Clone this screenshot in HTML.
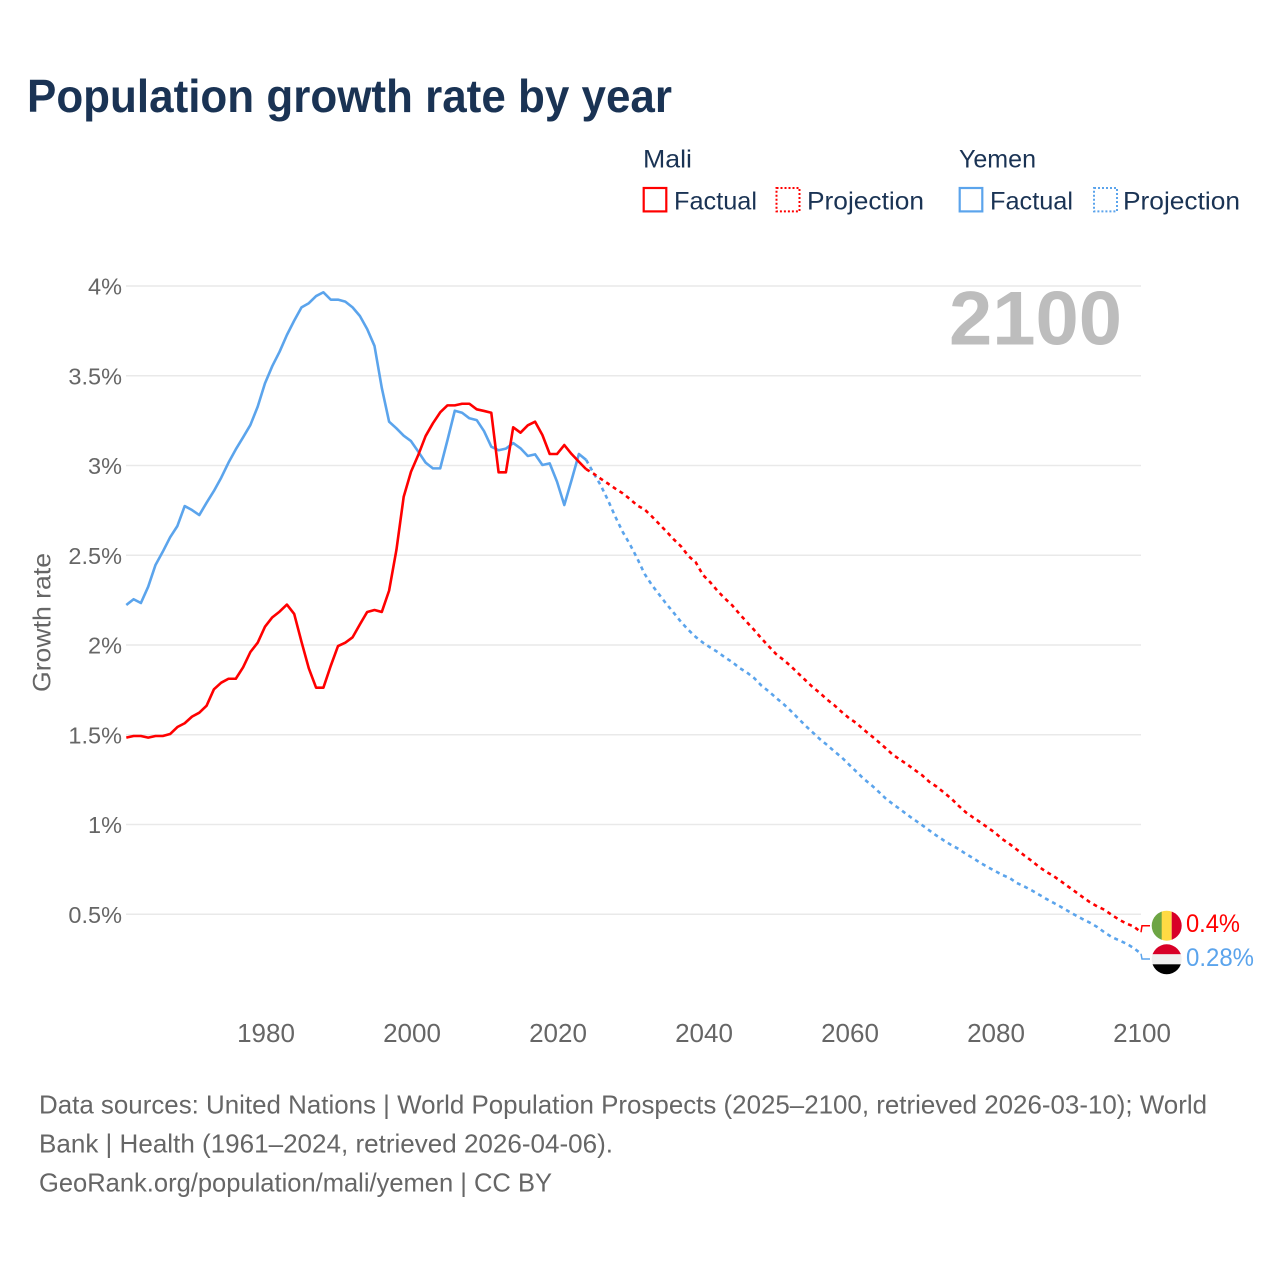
<!DOCTYPE html>
<html lang="en">
<head>
<meta charset="utf-8">
<title>Population growth rate by year</title>
<style>
html,body{margin:0;padding:0;background:#fff;}
body{width:1280px;height:1280px;overflow:hidden;}
svg{display:block;}
text{font-family:"Liberation Sans",sans-serif;}
</style>
</head>
<body>
<svg id="chart" xmlns="http://www.w3.org/2000/svg" width="1280" height="1280" viewBox="0 0 1280 1280">
  <rect x="0" y="0" width="1280" height="1280" fill="#ffffff"/>
  <text x="27" y="112" font-size="46" font-weight="700" fill="#1a3354" textLength="645" lengthAdjust="spacingAndGlyphs">Population growth rate by year</text>

  <g font-size="25" fill="#1a3354">
    <text x="643" y="167.5" textLength="49" lengthAdjust="spacingAndGlyphs">Mali</text>
    <text x="959" y="167.5" textLength="77" lengthAdjust="spacingAndGlyphs">Yemen</text>
    <g>
      <rect x="643.7" y="188" width="22.6" height="23.4" fill="none" stroke="#ff0000" stroke-width="2.2"/>
      <text x="674" y="209.5" textLength="83" lengthAdjust="spacingAndGlyphs">Factual</text>
    </g>
    <g>
      <rect x="776.5" y="188" width="23" height="23.4" fill="none" stroke="#ff0000" stroke-width="2" stroke-dasharray="2 2"/>
      <text x="807" y="209.5" textLength="117" lengthAdjust="spacingAndGlyphs">Projection</text>
    </g>
    <g>
      <rect x="959.7" y="188" width="22.6" height="23.4" fill="none" stroke="#5ba4ec" stroke-width="2.2"/>
      <text x="990" y="209.5" textLength="83" lengthAdjust="spacingAndGlyphs">Factual</text>
    </g>
    <g>
      <rect x="1094" y="188" width="23" height="23.4" fill="none" stroke="#5ba4ec" stroke-width="2" stroke-dasharray="2 2"/>
      <text x="1123" y="209.5" textLength="117" lengthAdjust="spacingAndGlyphs">Projection</text>
    </g>
  </g>

  <g id="grid"></g>
  <g id="yticks"></g>
  <g id="xticks"></g>
  <text transform="translate(50.5,622.5) rotate(-90)" text-anchor="middle" font-size="25" fill="#666666" textLength="139" lengthAdjust="spacingAndGlyphs">Growth rate</text>
  <text x="949" y="344.5" font-size="76" font-weight="700" fill="#bdbdbd" textLength="173" lengthAdjust="spacingAndGlyphs">2100</text>
  <g id="series"></g>

  <path id="mali-connector" fill="none" stroke="#ff0000" stroke-width="1.5"/>
  <path id="yemen-connector" fill="none" stroke="#5ba4ec" stroke-width="1.5"/>

  <defs>
    <clipPath id="mali-clip"><circle cx="1166.7" cy="925.7" r="15"/></clipPath>
    <clipPath id="yemen-clip"><circle cx="1166.7" cy="959.3" r="15"/></clipPath>
  </defs>
  <g clip-path="url(#mali-clip)">
    <rect x="1151" y="910" width="11" height="32" fill="#6da544"/>
    <rect x="1161.7" y="910" width="10" height="32" fill="#ffda44"/>
    <rect x="1171.7" y="910" width="11" height="32" fill="#d80027"/>
  </g>
  <g clip-path="url(#yemen-clip)">
    <rect x="1151" y="944" width="32" height="10.3" fill="#d80027"/>
    <rect x="1151" y="954.3" width="32" height="10" fill="#f0f0f0"/>
    <rect x="1151" y="964.3" width="32" height="11" fill="#000000"/>
  </g>
  <text x="1186" y="932" font-size="25" fill="#ff0000" textLength="54" lengthAdjust="spacingAndGlyphs">0.4%</text>
  <text x="1186" y="966" font-size="25" fill="#5ba4ec" textLength="68" lengthAdjust="spacingAndGlyphs">0.28%</text>

  <g font-size="26" fill="#666666">
    <text x="39" y="1113.5" textLength="1168" lengthAdjust="spacingAndGlyphs">Data sources: United Nations | World Population Prospects (2025–2100, retrieved 2026-03-10); World</text>
    <text x="39" y="1152.5" textLength="574" lengthAdjust="spacingAndGlyphs">Bank | Health (1961–2024, retrieved 2026-04-06).</text>
    <text x="39" y="1191.5" textLength="513" lengthAdjust="spacingAndGlyphs">GeoRank.org/population/mali/yemen | CC BY</text>
  </g>
</svg>
<script>
var yTickValues = [0.5, 1, 1.5, 2, 2.5, 3, 3.5, 4];
var yTickLabels = ["0.5%", "1%", "1.5%", "2%", "2.5%", "3%", "3.5%", "4%"];
var xTickValues = [1980, 2000, 2020, 2040, 2060, 2080, 2100];
var factualStartYear = 1961;
var projectionStartYear = 2024;

var maliFactual = [1.484,1.493,1.493,1.484,1.493,1.493,1.504,1.543,1.564,1.601,1.623,1.662,1.753,1.790,1.812,1.812,1.876,1.961,2.013,2.102,2.154,2.186,2.225,2.173,2.018,1.870,1.762,1.762,1.883,1.994,2.013,2.043,2.115,2.184,2.195,2.184,2.303,2.529,2.826,2.965,3.059,3.164,3.235,3.296,3.335,3.335,3.344,3.344,3.313,3.304,3.294,2.962,2.962,3.213,3.183,3.224,3.244,3.170,3.064,3.064,3.114,3.064,3.021,2.979];
var yemenFactual = [2.223,2.255,2.234,2.325,2.446,2.520,2.600,2.663,2.774,2.752,2.724,2.793,2.858,2.932,3.016,3.090,3.157,3.226,3.328,3.458,3.554,3.634,3.727,3.807,3.881,3.904,3.944,3.965,3.924,3.924,3.913,3.881,3.833,3.760,3.666,3.432,3.244,3.207,3.166,3.136,3.077,3.016,2.984,2.984,3.142,3.305,3.294,3.263,3.253,3.192,3.105,3.085,3.094,3.125,3.096,3.053,3.062,3.003,3.012,2.910,2.780,2.919,3.064,3.031];
var maliProjection = [2.979,2.955,2.926,2.899,2.871,2.845,2.813,2.777,2.755,2.716,2.674,2.632,2.588,2.549,2.496,2.461,2.390,2.349,2.301,2.259,2.221,2.173,2.128,2.084,2.037,1.993,1.950,1.918,1.883,1.844,1.805,1.766,1.733,1.696,1.664,1.627,1.593,1.565,1.529,1.496,1.462,1.426,1.389,1.361,1.334,1.304,1.275,1.238,1.211,1.178,1.145,1.105,1.068,1.039,1.012,0.983,0.954,0.919,0.891,0.860,0.828,0.798,0.765,0.737,0.713,0.685,0.655,0.626,0.596,0.567,0.544,0.525,0.496,0.470,0.448,0.432,0.40];
var yemenProjection = [3.031,2.958,2.889,2.805,2.714,2.630,2.560,2.482,2.396,2.334,2.281,2.228,2.179,2.128,2.084,2.045,2.013,1.986,1.961,1.931,1.905,1.872,1.847,1.816,1.774,1.742,1.706,1.672,1.634,1.593,1.552,1.514,1.476,1.443,1.407,1.374,1.334,1.295,1.255,1.222,1.185,1.146,1.114,1.085,1.054,1.025,0.997,0.967,0.938,0.911,0.886,0.864,0.836,0.813,0.786,0.763,0.741,0.719,0.702,0.674,0.655,0.634,0.610,0.586,0.564,0.542,0.518,0.495,0.473,0.453,0.429,0.399,0.373,0.355,0.336,0.312,0.28];

var SVG_NS = "http://www.w3.org/2000/svg";
function xScale(year) { return 1141 - (2100 - year) * 7.3; }
function yScale(value) { return 286 + (4 - value) * 179.5; }

function linePath(values, startYear) {
  var d = "";
  for (var i = 0; i < values.length; i++) {
    d += (i ? "L" : "M") + xScale(startYear + i).toFixed(2) + " " + yScale(values[i]).toFixed(2);
  }
  return d;
}

var gridGroup = document.getElementById("grid");
var yTickGroup = document.getElementById("yticks");
yTickValues.forEach(function (value, i) {
  var line = document.createElementNS(SVG_NS, "line");
  
  
  line.setAttribute("x1", 126);
  line.setAttribute("x2", 1141);
  line.setAttribute("y1", yScale(value));
  line.setAttribute("y2", yScale(value));
  line.setAttribute("stroke", "#e9e9e9");
  line.setAttribute("stroke-width", "1.6");
  gridGroup.appendChild(line);

  var label = document.createElementNS(SVG_NS, "text");
  
  
  label.setAttribute("x", 122);
  label.setAttribute("y", yScale(value) + 8.5);
  label.setAttribute("text-anchor", "end");
  label.setAttribute("font-size", "23.5");
  label.setAttribute("fill", "#666666");
  label.textContent = yTickLabels[i];
  yTickGroup.appendChild(label);
});

var xTickGroup = document.getElementById("xticks");
xTickValues.forEach(function (year) {
  var label = document.createElementNS(SVG_NS, "text");
  
  
  label.setAttribute("x", xScale(year) + 1);
  label.setAttribute("y", 1042);
  label.setAttribute("text-anchor", "middle");
  label.setAttribute("font-size", "26");
  label.setAttribute("fill", "#666666");
  label.textContent = String(year);
  xTickGroup.appendChild(label);
});

var seriesGroup = document.getElementById("series");
function drawSeries(name, values, startYear, color, dashed) {
  var path = document.createElementNS(SVG_NS, "path");
  
  
  path.setAttribute("d", linePath(values, startYear));
  path.setAttribute("fill", "none");
  path.setAttribute("stroke", color);
  path.setAttribute("stroke-width", "2.6");
  path.setAttribute("stroke-linejoin", "round");
  if (dashed) { path.setAttribute("stroke-dasharray", "4 4"); }
  seriesGroup.appendChild(path);
}
drawSeries("yemen-factual-line", yemenFactual, factualStartYear, "#5ba4ec", false);
drawSeries("mali-factual-line", maliFactual, factualStartYear, "#ff0000", false);
drawSeries("yemen-projection-line", yemenProjection, projectionStartYear, "#5ba4ec", true);
drawSeries("mali-projection-line", maliProjection, projectionStartYear, "#ff0000", true);

var endX = xScale(2100);
var maliEndY = yScale(maliProjection[maliProjection.length - 1]);
var yemenEndY = yScale(yemenProjection[yemenProjection.length - 1]);
document.getElementById("mali-connector").setAttribute("d", "M" + endX + " " + maliEndY + "L" + (endX + 1) + " 925.7L1150 925.7");
document.getElementById("yemen-connector").setAttribute("d", "M" + endX + " " + yemenEndY + "L" + (endX + 1) + " 959L1150 959");
</script>
</body>
</html>
